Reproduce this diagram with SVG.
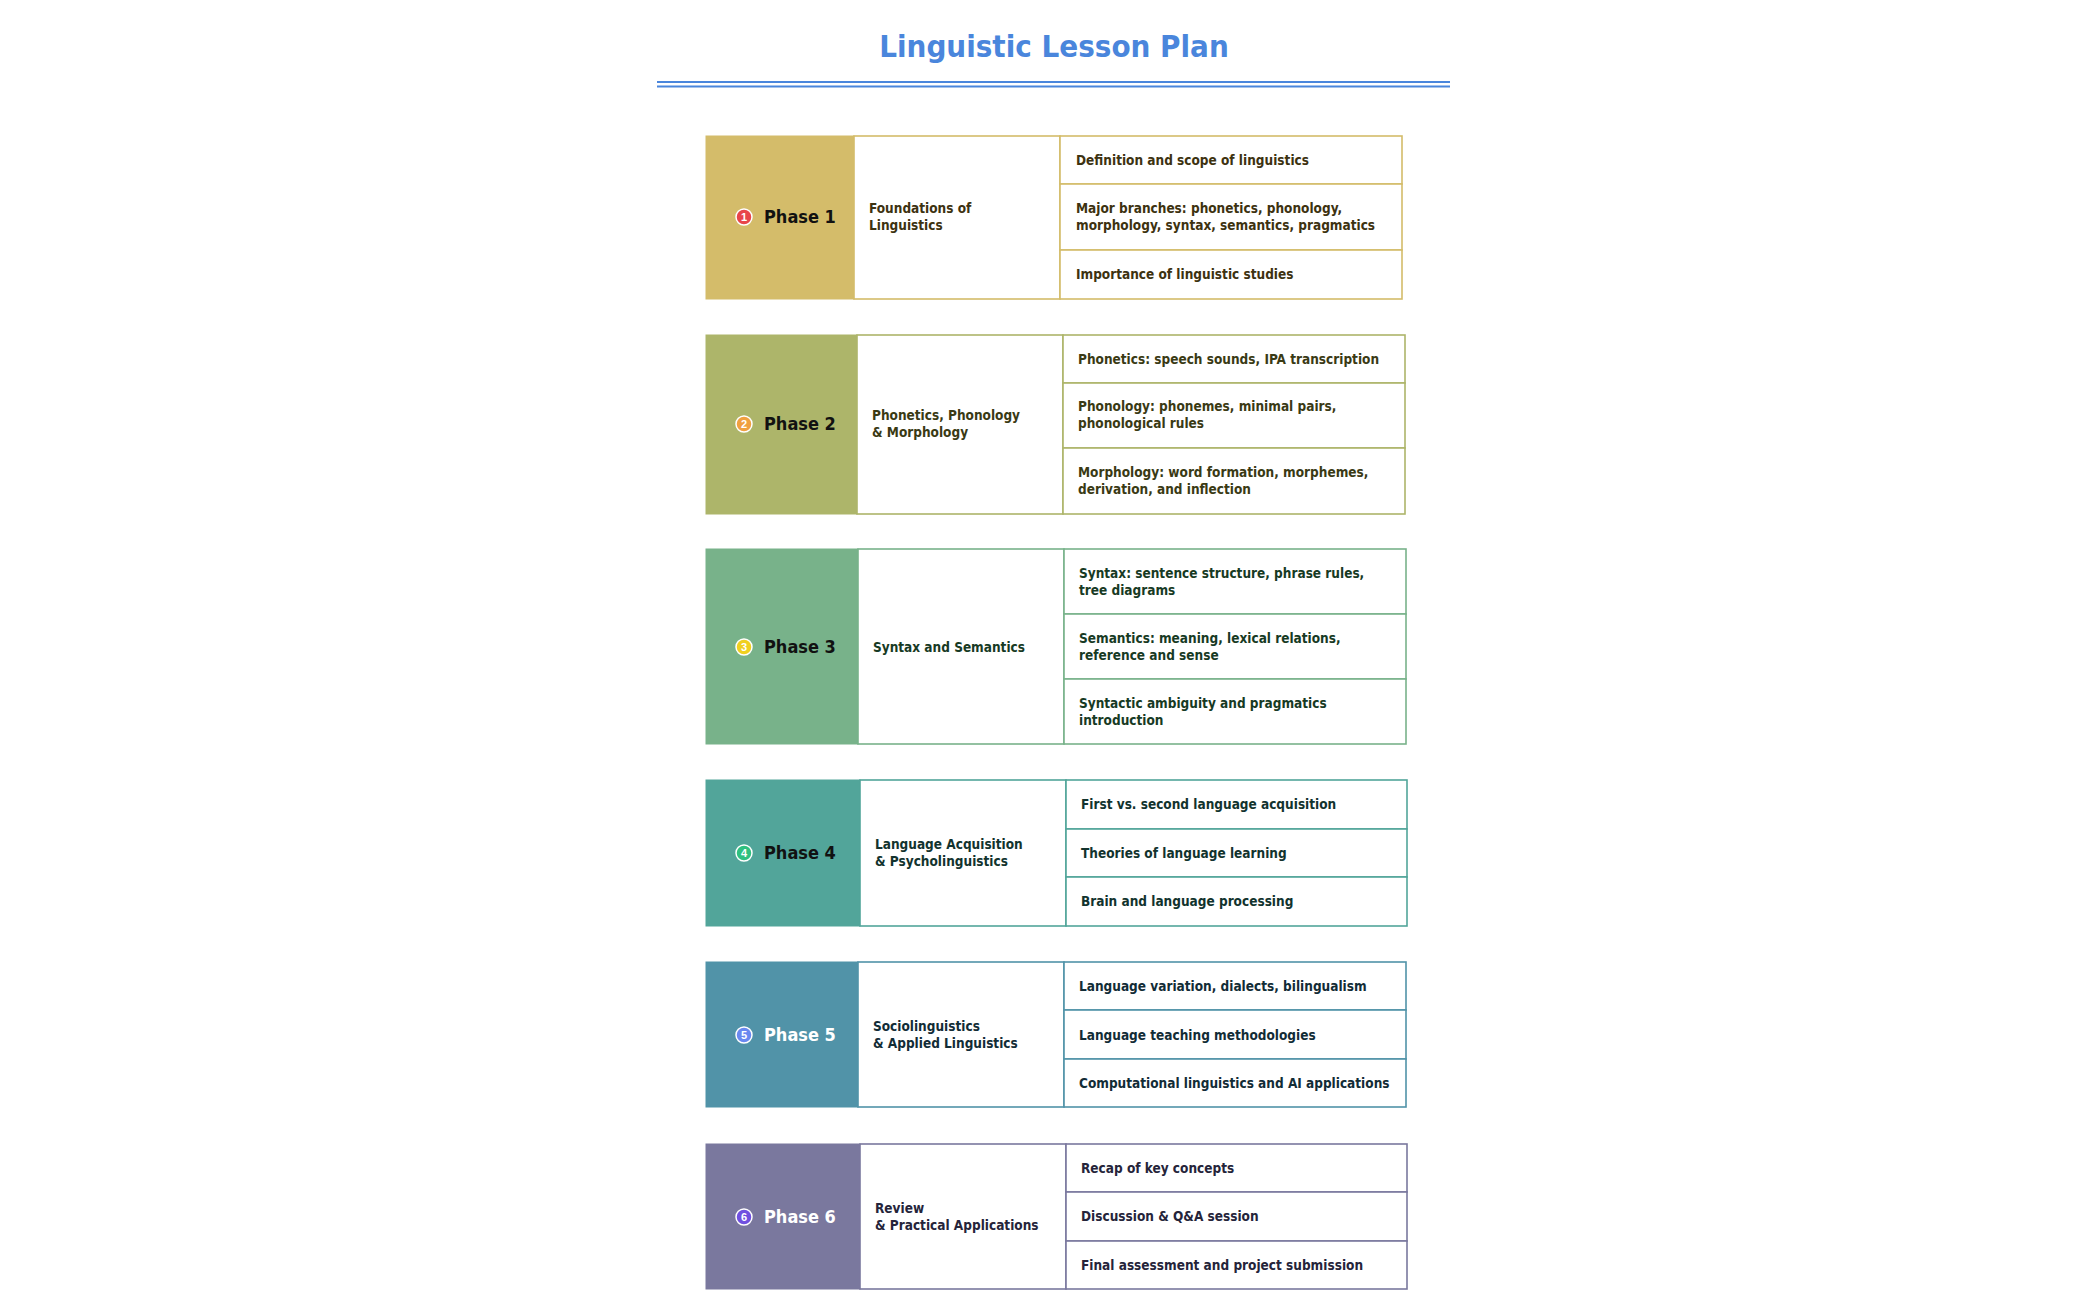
<svg xmlns="http://www.w3.org/2000/svg" width="2099" height="1300" viewBox="0 0 2099 1300">
<style>
.t{font-family:"DejaVu Sans Condensed","Liberation Sans",sans-serif;font-size:13.5px;font-weight:bold}
.ph{font-family:"DejaVu Sans Condensed","Liberation Sans",sans-serif;font-size:18px;font-weight:bold}
.bn{font-family:"Liberation Sans",sans-serif;font-size:11px;font-weight:bold;fill:#fff;text-anchor:middle}
.cell{fill:#fff;stroke-width:1.6}
</style>
<rect width="2099" height="1300" fill="#fff"/>
<text x="1054" y="57" text-anchor="middle" font-family="DejaVu Sans Condensed,Liberation Sans,sans-serif" font-size="31" font-weight="bold" fill="#4a86dc">Linguistic Lesson Plan</text>
<line x1="657" y1="82" x2="1450" y2="82" stroke="#4a86dc" stroke-width="2"/>
<line x1="657" y1="86.5" x2="1450" y2="86.5" stroke="#4a86dc" stroke-width="2"/>

<g id="phase1" stroke="#d4bc6a" fill="#3d3210">
<rect x="706" y="136" width="148" height="163" fill="#d4bc6a"/>
<rect class="cell" x="854" y="136" width="206" height="163"/>
<rect class="cell" x="1060" y="136" width="342" height="48"/>
<rect class="cell" x="1060" y="184" width="342" height="66"/>
<rect class="cell" x="1060" y="250" width="342" height="49"/>
<circle cx="744" cy="217" r="8" fill="#e8454a" stroke="#fff" stroke-width="1.5"/><text class="bn" x="744" y="221" stroke="none">1</text>
<text class="ph" x="764" y="223" stroke="none" fill="#111">Phase 1</text>
<g class="t" stroke="none"><text x="869" y="213">Foundations of</text><text x="869" y="230">Linguistics</text>
<text x="1076" y="165">Definition and scope of linguistics</text>
<text x="1076" y="213">Major branches: phonetics, phonology,</text><text x="1076" y="230">morphology, syntax, semantics, pragmatics</text>
<text x="1076" y="279">Importance of linguistic studies</text></g>
</g>

<g id="phase2" stroke="#adb56a" fill="#3a3a14">
<rect x="706" y="335" width="151" height="179" fill="#adb56a"/>
<rect class="cell" x="857" y="335" width="206" height="179"/>
<rect class="cell" x="1063" y="335" width="342" height="48"/>
<rect class="cell" x="1063" y="383" width="342" height="65"/>
<rect class="cell" x="1063" y="448" width="342" height="66"/>
<circle cx="744" cy="424" r="8" fill="#f0a040" stroke="#fff" stroke-width="1.5"/><text class="bn" x="744" y="428" stroke="none">2</text>
<text class="ph" x="764" y="430" stroke="none" fill="#111">Phase 2</text>
<g class="t" stroke="none"><text x="872" y="420">Phonetics, Phonology</text><text x="872" y="437">&amp; Morphology</text>
<text x="1078" y="364">Phonetics: speech sounds, IPA transcription</text>
<text x="1078" y="411">Phonology: phonemes, minimal pairs,</text><text x="1078" y="428">phonological rules</text>
<text x="1078" y="477">Morphology: word formation, morphemes,</text><text x="1078" y="494">derivation, and inflection</text></g>
</g>

<g id="phase3" stroke="#78b28a" fill="#173a24">
<rect x="706" y="549" width="152" height="195" fill="#78b28a"/>
<rect class="cell" x="858" y="549" width="206" height="195"/>
<rect class="cell" x="1064" y="549" width="342" height="65"/>
<rect class="cell" x="1064" y="614" width="342" height="65"/>
<rect class="cell" x="1064" y="679" width="342" height="65"/>
<circle cx="744" cy="647" r="8" fill="#f0d020" stroke="#fff" stroke-width="1.5"/><text class="bn" x="744" y="651" stroke="none">3</text>
<text class="ph" x="764" y="653" stroke="none" fill="#111">Phase 3</text>
<g class="t" stroke="none"><text x="873" y="652">Syntax and Semantics</text>
<text x="1079" y="578">Syntax: sentence structure, phrase rules,</text><text x="1079" y="595">tree diagrams</text>
<text x="1079" y="643">Semantics: meaning, lexical relations,</text><text x="1079" y="660">reference and sense</text>
<text x="1079" y="708">Syntactic ambiguity and pragmatics</text><text x="1079" y="725">introduction</text></g>
</g>

<g id="phase4" stroke="#52a59a" fill="#12332e">
<rect x="706" y="780" width="154" height="146" fill="#52a59a"/>
<rect class="cell" x="860" y="780" width="206" height="146"/>
<rect class="cell" x="1066" y="780" width="341" height="49"/>
<rect class="cell" x="1066" y="829" width="341" height="48"/>
<rect class="cell" x="1066" y="877" width="341" height="49"/>
<circle cx="744" cy="853" r="8" fill="#30c080" stroke="#fff" stroke-width="1.5"/><text class="bn" x="744" y="857" stroke="none">4</text>
<text class="ph" x="764" y="859" stroke="none" fill="#111">Phase 4</text>
<g class="t" stroke="none"><text x="875" y="849">Language Acquisition</text><text x="875" y="866">&amp; Psycholinguistics</text>
<text x="1081" y="809">First vs. second language acquisition</text>
<text x="1081" y="858">Theories of language learning</text>
<text x="1081" y="906">Brain and language processing</text></g>
</g>

<g id="phase5" stroke="#5193a8" fill="#122c36">
<rect x="706" y="962" width="152" height="145" fill="#5193a8"/>
<rect class="cell" x="858" y="962" width="206" height="145"/>
<rect class="cell" x="1064" y="962" width="342" height="48"/>
<rect class="cell" x="1064" y="1010" width="342" height="49"/>
<rect class="cell" x="1064" y="1059" width="342" height="48"/>
<circle cx="744" cy="1035" r="8" fill="#6a88f0" stroke="#fff" stroke-width="1.5"/><text class="bn" x="744" y="1039" stroke="none">5</text>
<text class="ph" x="764" y="1041" stroke="none" fill="#fff">Phase 5</text>
<g class="t" stroke="none"><text x="873" y="1031">Sociolinguistics</text><text x="873" y="1048">&amp; Applied Linguistics</text>
<text x="1079" y="991">Language variation, dialects, bilingualism</text>
<text x="1079" y="1040">Language teaching methodologies</text>
<text x="1079" y="1088">Computational linguistics and AI applications</text></g>
</g>

<g id="phase6" stroke="#7a789e" fill="#25243a">
<rect x="706" y="1144" width="154" height="145" fill="#7a789e"/>
<rect class="cell" x="860" y="1144" width="206" height="145"/>
<rect class="cell" x="1066" y="1144" width="341" height="48"/>
<rect class="cell" x="1066" y="1192" width="341" height="49"/>
<rect class="cell" x="1066" y="1241" width="341" height="48"/>
<circle cx="744" cy="1217" r="8" fill="#7050e0" stroke="#fff" stroke-width="1.5"/><text class="bn" x="744" y="1221" stroke="none">6</text>
<text class="ph" x="764" y="1223" stroke="none" fill="#fff">Phase 6</text>
<g class="t" stroke="none"><text x="875" y="1213">Review</text><text x="875" y="1230">&amp; Practical Applications</text>
<text x="1081" y="1173">Recap of key concepts</text>
<text x="1081" y="1221">Discussion &amp; Q&amp;A session</text>
<text x="1081" y="1270">Final assessment and project submission</text></g>
</g>
<g id="connectors"/>
</svg>
